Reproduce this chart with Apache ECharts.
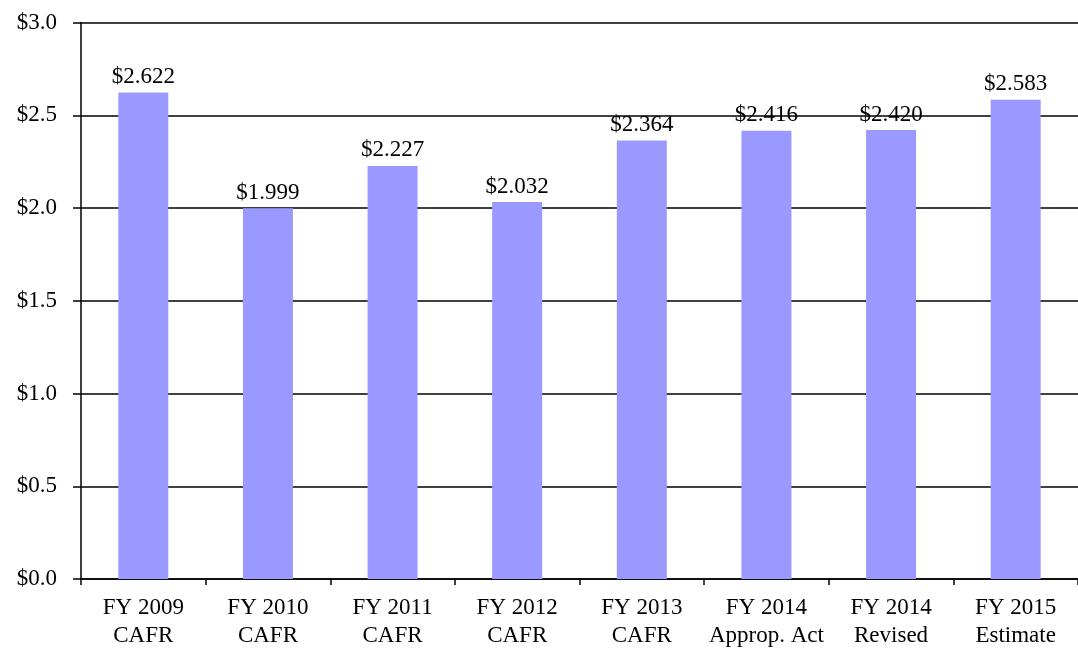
<!DOCTYPE html>
<html><head><meta charset="utf-8">
<script src="https://cdn.jsdelivr.net/npm/echarts@6/dist/echarts.min.js"></script>
<style>html,body{margin:0;padding:0;background:#fff}#c{width:1078px;height:650px}</style>
</head><body><div id="c"></div>
<script>
const categories = ["FY 2009\nCAFR","FY 2010\nCAFR","FY 2011\nCAFR","FY 2012\nCAFR","FY 2013\nCAFR","FY 2014\nApprop. Act","FY 2014\nRevised","FY 2015\nEstimate"];
const values = [2.622,1.999,2.227,2.032,2.364,2.416,2.420,2.583];
const font = "'Liberation Serif','Times New Roman',serif";
const chart = echarts.init(document.getElementById('c'));
chart.setOption({
  animation:false,
  grid:{left:81,right:-6,top:22.5,bottom:70,containLabel:false},
  xAxis:{type:'category',data:categories,
    axisLine:{lineStyle:{color:'#000',width:1.5}},
    axisTick:{show:true,length:6,lineStyle:{color:'#000',width:1.5}},
    axisLabel:{color:'#000',fontFamily:font,fontSize:23,lineHeight:28,margin:15,interval:0}},
  yAxis:{type:'value',min:0,max:3,interval:0.5,
    axisLine:{show:true,lineStyle:{color:'#000',width:1.5}},
    axisTick:{show:true,length:8,lineStyle:{color:'#000',width:1.5}},
    splitLine:{lineStyle:{color:'#000',width:1.5}},
    axisLabel:{color:'#000',fontFamily:font,fontSize:23,margin:24,formatter:v=>'$'+v.toFixed(1)}},
  series:[{type:'bar',data:values,barWidth:50,itemStyle:{color:'#9999FF'},
    label:{show:true,position:'top',distance:4,color:'#000',fontFamily:font,fontSize:23,formatter:p=>'$'+p.value.toFixed(3)}}]
});
</script></body></html>
